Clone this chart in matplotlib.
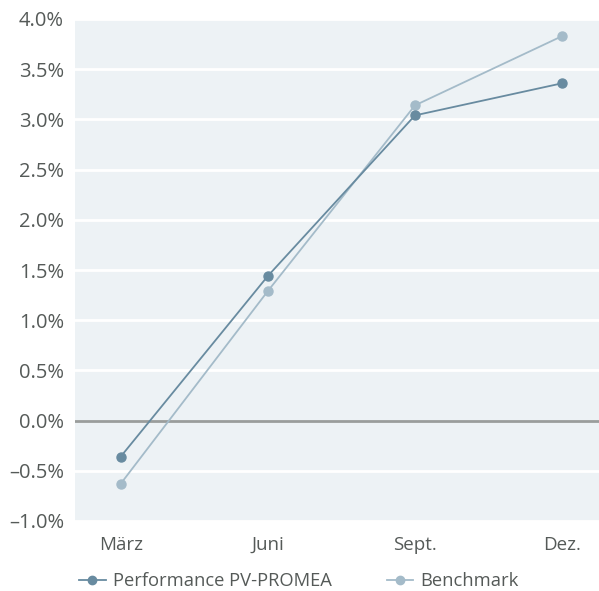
import matplotlib
matplotlib.use("Agg")
import matplotlib.pyplot as plt
from matplotlib.lines import Line2D

categories = ["März", "Juni", "Sept.", "Dez."]
performance = [-0.36, 1.44, 3.04, 3.36]
benchmark = [-0.63, 1.29, 3.14, 3.83]
yticks = [-1.0, -0.5, 0.0, 0.5, 1.0, 1.5, 2.0, 2.5, 3.0, 3.5, 4.0]
series_names = ["Performance PV-PROMEA", "Benchmark"]

plt.rcParams['font.family'] = ['Open Sans', 'DejaVu Sans']
text_color = "#555a58"
c_perf = "#688ba0"
c_bench = "#a4bbc9"

fig = plt.figure(figsize=(5.99, 5.91), dpi=100)
ax = fig.add_axes([75/599, 1-521/591, 1-75/599, (521-19)/591])
ax.set_facecolor("#edf2f5")
for s in ax.spines.values():
    s.set_visible(False)

x = list(range(len(categories)))
for yt in yticks:
    if yt == 0:
        ax.axhline(yt, color="#9a9d9c", lw=2, zorder=1)
    else:
        ax.axhline(yt, color="white", lw=2, zorder=1)

ax.plot(x, performance, color=c_perf, lw=1.3, marker="o", ms=6.5, zorder=3)
ax.plot(x, benchmark, color=c_bench, lw=1.3, marker="o", ms=6.5, zorder=2)

ax.set_ylim(-1.0, 4.0)
ax.set_xlim(-0.31, 3.25)
ax.set_yticks(yticks)
ax.set_yticklabels([("%.1f%%" % v).replace("-", "–") for v in yticks])
ax.set_xticks(x)
ax.set_xticklabels(categories)
ax.tick_params(axis="y", length=0, labelsize=14.5, colors=text_color, pad=8)
ax.tick_params(axis="x", length=0, labelsize=13.5, colors=text_color, pad=11)

handles = [Line2D([], [], color=c_perf, lw=1.3, marker="o", ms=6),
           Line2D([], [], color=c_bench, lw=1.3, marker="o", ms=6)]
leg = fig.legend(handles, series_names, loc="center left",
                 bbox_to_anchor=(79/599, 1-581/591), ncol=2, frameon=False,
                 fontsize=13.2, handlelength=1.45, handletextpad=0.4,
                 columnspacing=3.0, borderaxespad=0, borderpad=0)
for t in leg.get_texts():
    t.set_color(text_color)

fig.savefig("out.png", dpi=100)
